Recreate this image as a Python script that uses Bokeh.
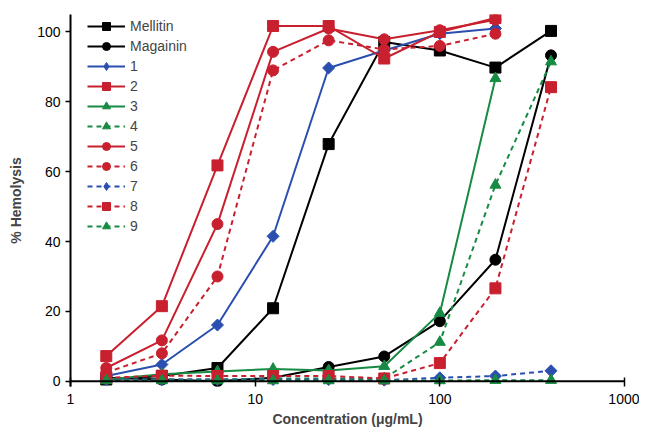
import numpy as np
from bokeh.plotting import figure
from bokeh.models import Range1d, FixedTicker, NumeralTickFormatter, Span
from bokeh.embed import file_html
from bokeh.resources import INLINE

# ---- data ----
conc = [1.5625, 3.125, 6.25, 12.5, 25, 50, 100, 200, 400]
mellitin = [0.5, 1.5, 3.8, 20.9, 67.9, 97.1, 94.7, 89.8, 100.3]
magainin = [1.0, 0.5, 0.0, 1.0, 4.1, 7.1, 17.2, 34.8, 93.3]
s1 = [1.5, 4.8, 16.1, 41.5, 89.7, 94.7, 99.5, 101.0]
s2 = [7.2, 21.5, 61.8, 101.7, 101.7, 92.4, 100.0, 104.0]
s3 = [0.5, 2.0, 2.8, 3.5, 3.1, 4.3, 19.5, 86.7]
s4 = [0.5, 0.5, 0.5, 0.8, 0.8, 0.8, 11.2, 56.2, 91.5]
s5 = [3.8, 11.7, 45.0, 94.3, 101.0, 97.9, 100.5, 103.5]
s6 = [2.5, 8.0, 30.0, 89.0, 97.6, 95.0, 96.0, 99.5]
s7 = [0.5, 0.5, 0.5, 0.5, 0.5, 0.3, 1.0, 1.5, 3.0]
s8 = [1.0, 1.6, 1.5, 1.5, 1.5, 0.8, 5.2, 26.6, 84.2]
s9 = [0.2, 0.2, 0.2, 0.2, 0.2, 0.2, 0.2, 0.3, 0.3]
x_ticks = [1, 10, 100, 1000]
y_ticks = [0, 20, 40, 60, 80, 100]

BLACK = "#000000"
RED = "#C8202E"
BLUE = "#2B4FAE"
GREEN = "#178A43"
FONT = "Liberation Sans"

series = [
    ("Mellitin", mellitin, BLACK, "square", "solid"),
    ("Magainin", magainin, BLACK, "circle", "solid"),
    ("1", s1, BLUE, "diamond", "solid"),
    ("2", s2, RED, "square", "solid"),
    ("3", s3, GREEN, "triangle", "solid"),
    ("4", s4, GREEN, "triangle", "dashed"),
    ("5", s5, RED, "circle", "solid"),
    ("6", s6, RED, "circle", "dashed"),
    ("7", s7, BLUE, "diamond", "dashed"),
    ("8", s8, RED, "square", "dashed"),
    ("9", s9, GREEN, "triangle", "dashed"),
]

p = figure(
    x_axis_type="log",
    x_range=Range1d(1, 1000),
    y_range=Range1d(-1.5, 105),
    frame_width=554, frame_height=372,
    min_border_left=70, min_border_right=15,
    min_border_top=14, min_border_bottom=45,
    output_backend="svg", toolbar_location=None,
)
p.outline_line_color = None
p.grid.visible = False
p.background_fill_color = "white"
p.border_fill_color = "white"

for name, ys, color, marker, style in series:
    xs = conc[:len(ys)]
    dash = "solid" if style == "solid" else "5 4"
    p.line(xs, ys, line_color=color, line_width=2, line_dash=dash, legend_label=name)
    if marker == "diamond":
        # data markers: rotated squares
        p.scatter(xs, ys, marker="square", angle=np.pi / 4, size=8.5,
                  fill_color=color, line_color=color)
        # legend-only glyph (legend does not rotate markers)
        p.scatter([np.nan], [np.nan], marker="diamond", size=13,
                  fill_color=color, line_color=color, legend_label=name)
    elif marker == "square":
        p.scatter(xs, ys, marker="square", size=11,
                  fill_color=color, line_color=color, legend_label=name)
    elif marker == "circle":
        p.scatter(xs, ys, marker="circle", size=11,
                  fill_color=color, line_color=color, legend_label=name)
    else:
        p.scatter(xs, ys, marker="triangle", size=11,
                  fill_color=color, line_color=color, legend_label=name)

# zero baseline acting as x-axis line
p.add_layout(Span(location=0, dimension="width", line_color="black", line_width=2))

# x axis
xa = p.xaxis[0]
xa.ticker = FixedTicker(ticks=x_ticks, minor_ticks=[])
xa.formatter = NumeralTickFormatter(format="0")
xa.axis_line_alpha = 0
xa.major_tick_in = 9
xa.major_tick_out = 0
xa.major_tick_line_width = 1.5
xa.major_label_standoff = 7
xa.major_label_text_font = FONT
xa.major_label_text_font_size = "14px"
xa.major_label_text_color = "black"
xa.axis_label = "Concentration (μg/mL)"
xa.axis_label_text_font = FONT
xa.axis_label_text_font_size = "14px"
xa.axis_label_text_font_style = "bold"
xa.axis_label_standoff = 4

# y axis
ya = p.yaxis[0]
ya.ticker = FixedTicker(ticks=y_ticks, minor_ticks=[])
ya.axis_line_width = 2
ya.major_tick_in = 0
ya.major_tick_out = 5
ya.major_tick_line_width = 1.5
ya.major_label_standoff = 5
ya.major_label_text_font = FONT
ya.major_label_text_font_size = "14px"
ya.major_label_text_color = "black"
ya.axis_label = "% Hemolysis"
ya.axis_label_text_font = FONT
ya.axis_label_text_font_size = "14px"
ya.axis_label_text_font_style = "bold"
ya.axis_label_standoff = 10

# legend
lg = p.legend[0]
lg.location = (15, 148)
lg.padding = 2
lg.margin = 0
lg.spacing = 0
lg.glyph_width = 38
lg.glyph_height = 20
lg.label_height = 20
lg.label_standoff = 5
lg.label_text_font = FONT
lg.label_text_font_size = "14px"
lg.label_text_baseline = "middle"
lg.border_line_alpha = 0
lg.background_fill_alpha = 0

open("out.html", "w").write(file_html(p, INLINE))
